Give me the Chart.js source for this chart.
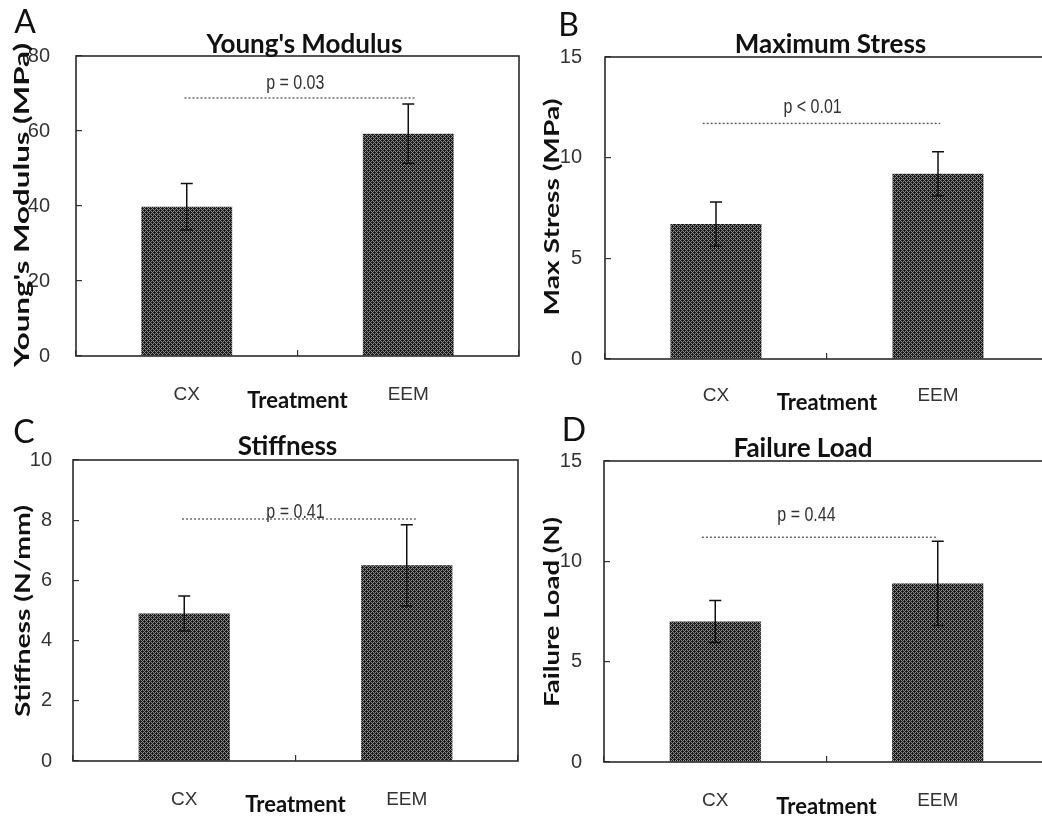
<!DOCTYPE html>
<html><head><meta charset="utf-8">
<script src="https://cdn.jsdelivr.net/npm/chart.js@4.4.1/dist/chart.umd.min.js"></script>
<style>
html,body{margin:0;padding:0;background:#fff;overflow:hidden;}
#wrap{position:relative;width:1042px;height:822px;overflow:hidden;background:#fff;}
canvas{position:absolute;}
</style></head><body><div id="wrap">
<canvas id="cA" width="521" height="411" style="left:0;top:0"></canvas>
<canvas id="cB" width="531" height="411" style="left:520px;top:0"></canvas>
<canvas id="cC" width="521" height="411" style="left:0;top:411px"></canvas>
<canvas id="cD" width="531" height="411" style="left:520px;top:411px"></canvas>
</div>
<script>
// ---------- data ----------
const categories = ['CX', 'EEM'];
const xAxisTitle = 'Treatment';
const panelLetters = ['A', 'B', 'C', 'D'];
const panelTitles = ["Young's Modulus", 'Maximum Stress', 'Stiffness', 'Failure Load'];
const yAxisTitles = ["Young's Modulus (MPa)", 'Max Stress (MPa)', 'Stiffness (N/mm)', 'Failure Load (N)'];

const youngsModulus = [39.8, 59.3];
const youngsModulusErr = [6.2, 7.9];
const maxStress = [6.7, 9.2];
const maxStressErr = [1.1, 1.1];
const stiffness = [4.9, 6.5];
const stiffnessErr = [0.58, 1.35];
const failureLoad = [7.0, 8.9];
const failureLoadErr = [1.05, 2.1];

const yTicksA = [0, 20, 40, 60, 80];
const yTicksB = [0, 5, 10, 15];
const yTicksC = [0, 2, 4, 6, 8, 10];
const yTicksD = [0, 5, 10, 15];

const pLabels = ['p = 0.03', 'p < 0.01', 'p = 0.41', 'p = 0.44'];
const sigLevels = [68.8, 11.7, 8.04, 11.2];

// ---------- layout / style ----------
const NARROW = "'Liberation Sans Narrow','Liberation Sans',Arimo,sans-serif";
const BOLD = "Lato,'Open Sans',sans-serif";

const panels = [
  {id:'cA', w:521, h:411, values:youngsModulus, errs:youngsModulusErr, ticks:yTicksA,
   area:{left:76, top:56, right:519, bottom:356}, yPad:26, xPad:27.5, xTitlePad:-1,
   letter:[25,21.5], title:[304.5,53], yTitle:[22,205,324], pPos:[0.49,72.8], sig:[-0.01,1.03]},
  {id:'cB', w:531, h:411, values:maxStress, errs:maxStressErr, ticks:yTicksB,
   area:{left:85, top:57, right:529, bottom:359}, yPad:23, xPad:25.5, xTitlePad:-3,
   letter:[48.5,25], title:[310.5,53], yTitle:[32,207,217], pPos:[0.435,12.5], sig:[-0.06,1.01]},
  {id:'cC', w:521, h:411, values:stiffness, errs:stiffnessErr, ticks:yTicksC,
   area:{left:73, top:49, right:518, bottom:350}, yPad:21, xPad:27, xTitlePad:6,
   letter:[24,21], title:[287.5,44], yTitle:[23,200,212], pPos:[0.5,8.27], sig:[-0.01,1.04]},
  {id:'cD', w:531, h:411, values:failureLoad, errs:failureLoadErr, ticks:yTicksD,
   area:{left:84, top:50, right:529, bottom:351}, yPad:22, xPad:27.5, xTitlePad:4,
   letter:[54,18.5], title:[283,46], yTitle:[32,201,190], pPos:[0.41,12.3], sig:[-0.06,1.0]}
];

function makePattern(ctx){
  const c = document.createElement('canvas'); c.width = 4; c.height = 4;
  const g = c.getContext('2d');
  g.fillStyle = '#1c1c1c'; g.fillRect(0,0,4,4);
  g.fillStyle = '#8a8a8a';
  for (let x=0;x<4;x++) for (let y=0;y<4;y++) {
    if ((x+y)%4===0 || (((x-y)%4)+4)%4===0) g.fillRect(x,y,1,1);
  }
  return ctx.createPattern(c,'repeat');
}

const decorPlugin = {
  id: 'decor',
  afterDatasetsDraw(chart, args, opts) {
    const p = opts.panel, i = opts.index;
    const ctx = chart.ctx, xs = chart.scales.x, ys = chart.scales.y, a = chart.chartArea;
    ctx.save();
    // error bars
    const meta = chart.getDatasetMeta(0);
    ctx.strokeStyle = '#111'; ctx.lineWidth = 1.5;
    meta.data.forEach((bar, k) => {
      const v = p.values[k], e = p.errs[k];
      const yt = ys.getPixelForValue(v + e), yb = ys.getPixelForValue(v - e);
      ctx.beginPath();
      ctx.moveTo(bar.x, yt); ctx.lineTo(bar.x, yb);
      ctx.moveTo(bar.x - 6, yt); ctx.lineTo(bar.x + 6, yt);
      ctx.moveTo(bar.x - 6, yb); ctx.lineTo(bar.x + 6, yb);
      ctx.stroke();
    });
    // frame
    ctx.strokeStyle = '#2a2a2a'; ctx.lineWidth = 1.6; ctx.setLineDash([]);
    ctx.strokeRect(a.left, a.top, a.right - a.left, a.bottom - a.top);
    // significance line
    const sy = ys.getPixelForValue(sigLevels[i]);
    ctx.strokeStyle = '#555'; ctx.lineWidth = 1.3; ctx.setLineDash([2,2]);
    ctx.beginPath();
    ctx.moveTo(xs.getPixelForValue(p.sig[0]), sy);
    ctx.lineTo(xs.getPixelForValue(p.sig[1]), sy);
    ctx.stroke();
    ctx.setLineDash([]);
    // p label (condensed look)
    ctx.fillStyle = '#333';
    ctx.font = '20px ' + NARROW;
    ctx.textAlign = 'center'; ctx.textBaseline = 'middle';
    ctx.translate(xs.getPixelForValue(p.pPos[0]), ys.getPixelForValue(p.pPos[1]));
    ctx.scale(0.8, 1);
    ctx.fillText(pLabels[i], 0, 0);
    ctx.restore();
  },
  afterDraw(chart, args, opts) {
    const p = opts.panel, i = opts.index, ctx = chart.ctx;
    ctx.save();
    // panel letter
    ctx.fillStyle = '#111';
    ctx.font = '32px Lato, sans-serif';
    ctx.textAlign = 'center'; ctx.textBaseline = 'middle';
    ctx.fillText(panelLetters[i], p.letter[0], p.letter[1] + 1);
    // title
    ctx.font = 'bold 26px ' + BOLD;
    ctx.textBaseline = 'alphabetic';
    ctx.fillText(panelTitles[i], p.title[0], p.title[1]);
    // y axis title (stretched to reference length)
    ctx.font = 'bold 21px ' + BOLD;
    const tw = ctx.measureText(yAxisTitles[i]).width;
    ctx.translate(p.yTitle[0], p.yTitle[1]);
    ctx.rotate(-Math.PI/2);
    ctx.scale(p.yTitle[2] / tw, 1);
    ctx.textBaseline = 'middle';
    ctx.fillText(yAxisTitles[i], 0, 0);
    ctx.restore();
  }
};

panels.forEach((p, i) => {
  const ctx = document.getElementById(p.id).getContext('2d');
  new Chart(ctx, {
    type: 'bar',
    data: {
      labels: categories,
      datasets: [{
        data: p.values,
        backgroundColor: makePattern(ctx),
        borderWidth: 0,
        categoryPercentage: 1.0,
        barPercentage: 0.41
      }]
    },
    options: {
      responsive: false,
      animation: false,
      devicePixelRatio: 1,
      layout: { padding: { top: p.area.top, left: 0, right: p.w - p.area.right, bottom: 0 } },
      plugins: {
        legend: { display: false },
        title: { display: false },
        tooltip: { enabled: false },
        decor: { panel: p, index: i }
      },
      scales: {
        x: {
          type: 'category',
          afterFit(s) { s.height = p.h - p.area.bottom; },
          border: { display: false },
          grid: { display: true, offset: true, drawOnChartArea: false, drawTicks: true, tickLength: -6, color: '#333', lineWidth: 1.2 },
          ticks: { color: '#333', padding: p.xPad + 6, font: { family: NARROW, size: 19 } },
          title: { display: true, text: xAxisTitle, color: '#111',
                   font: { family: BOLD, size: 22, weight: 'bold', lineHeight: 1 },
                   padding: { top: 0, bottom: p.xTitlePad } }
        },
        y: {
          type: 'linear',
          min: p.ticks[0], max: p.ticks[p.ticks.length - 1],
          afterFit(s) { s.width = p.area.left; },
          afterBuildTicks(s) { s.ticks = p.ticks.map(v => ({ value: v })); },
          border: { display: false },
          grid: { display: true, drawOnChartArea: false, drawTicks: true, tickLength: -6, color: '#333', lineWidth: 1.2 },
          ticks: { color: '#333', padding: p.yPad + 6, font: { family: NARROW, size: 20 } },
          title: { display: false }
        }
      }
    },
    plugins: [decorPlugin]
  });
});
</script>
</body></html>
